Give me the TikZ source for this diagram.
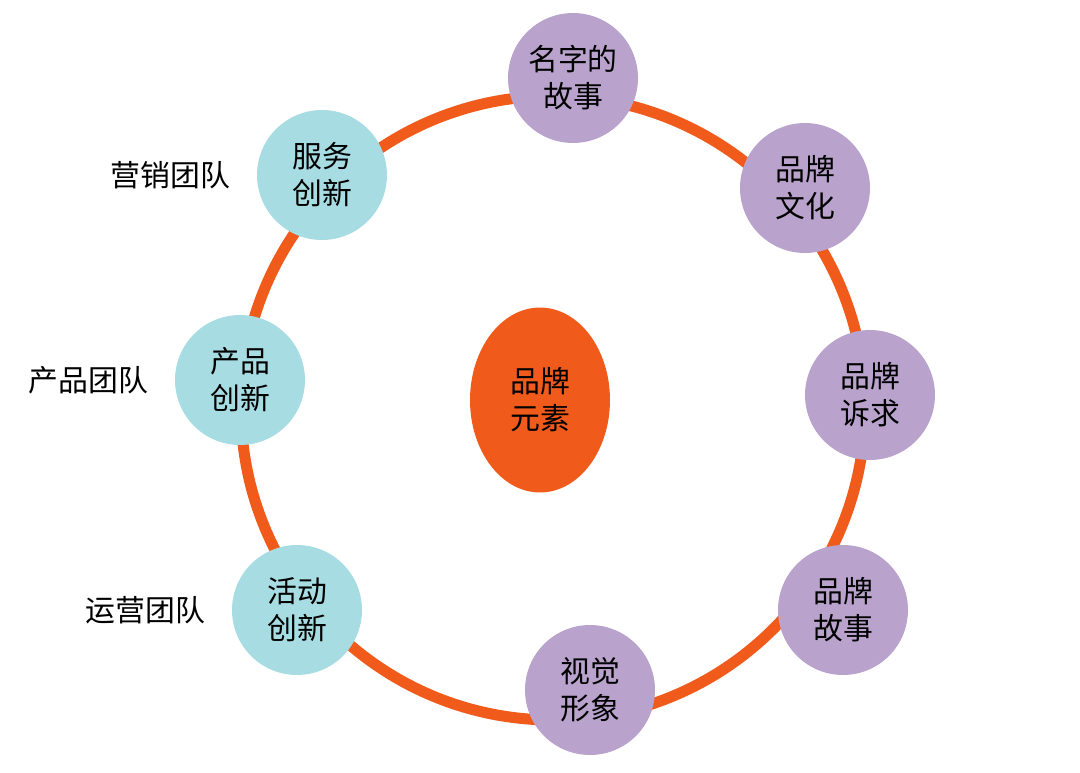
\documentclass[tikz,border=0pt]{standalone}
\usepackage{fontspec}
\setmainfont{Noto Sans CJK SC}
\usetikzlibrary{positioning, shapes.geometric}
\definecolor{ringorange}{HTML}{F05A1A}
\definecolor{lilac}{HTML}{B9A3CC}
\definecolor{skyblue}{HTML}{A8DCE3}
\tikzset{
every node/.style={font=\fontsize{17}{21}\selectfont, align=center},
brand/.style={circle, fill=lilac, minimum size=2.6cm, inner sep=0pt}, % brand element bubbles
team/.style={circle, fill=skyblue, minimum size=2.6cm, inner sep=0pt}, % innovation bubbles
}
\begin{document}
\begin{tikzpicture}[x=0.02cm, y=-0.02cm]
    \useasboundingbox (0,0) rectangle (1080,772);
    \draw[ringorange, line width=0.22cm] (553,408) circle (312);
    \node[ellipse, fill=ringorange, minimum width=2.8cm, minimum height=3.7cm] (core) at (540,400) {品牌\\元素};
    \node[brand] (name) at (573,78) {名字的\\故事};
    \node[brand] (culture) at (805,188) {品牌\\文化};
    \node[brand] (appeal) at (870,395) {品牌\\诉求};
    \node[brand] (story) at (843,610) {品牌\\故事};
    \node[brand] (visual) at (590,690) {视觉\\形象};
    \node[team] (event) at (297,610) {活动\\创新};
    \node[team] (product) at (240,380) {产品\\创新};
    \node[team] (service) at (322,175) {服务\\创新};
    \node[left=0.4cm of service] (marketing) {营销团队};
    \node[left=0.4cm of product] (producers) {产品团队};
    \node[left=0.4cm of event] (operations) {运营团队};
\end{tikzpicture}
\end{document}
